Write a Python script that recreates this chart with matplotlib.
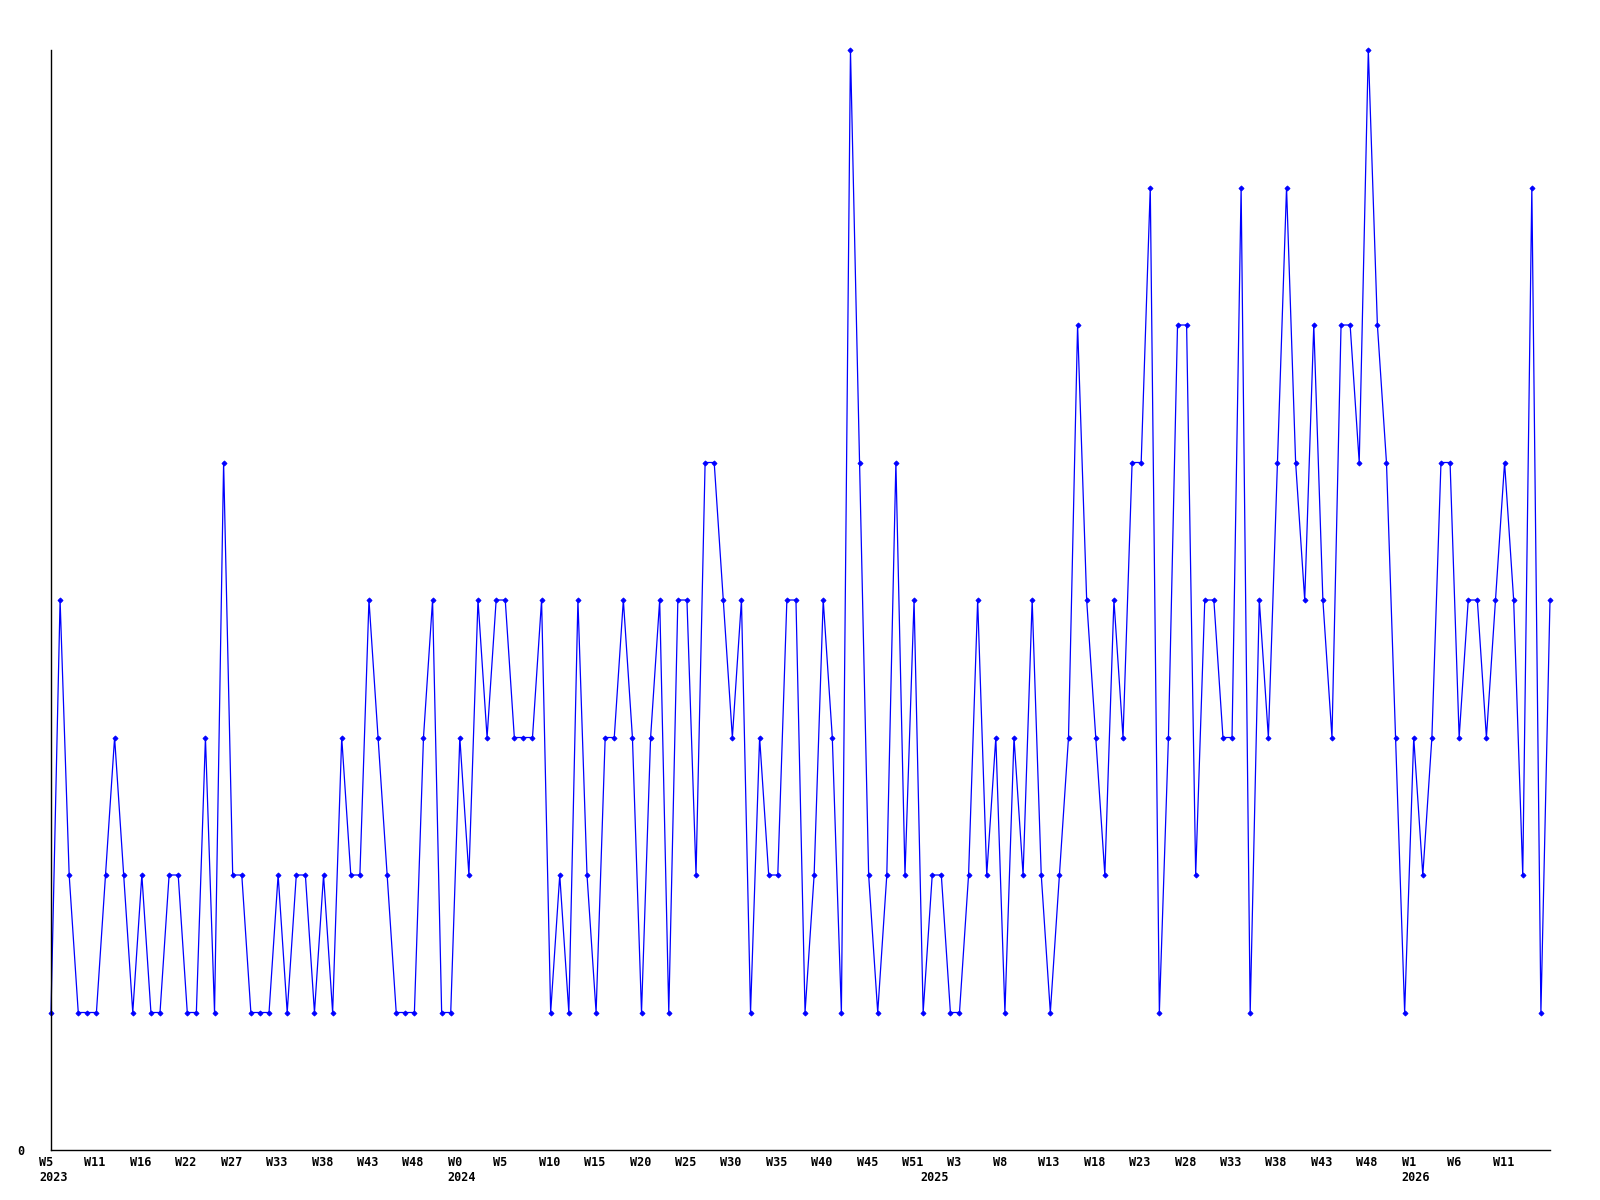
import matplotlib
matplotlib.use("Agg")
import matplotlib.pyplot as plt
from matplotlib.transforms import ScaledTranslation

# weekly counts, one point per week starting W5 2023
counts = [1, 4, 2, 1, 1, 1, 2, 3, 2, 1,
          2, 1, 1, 2, 2, 1, 1, 3, 1, 5,
          2, 2, 1, 1, 1, 2, 1, 2, 2, 1,
          2, 1, 3, 2, 2, 4, 3, 2, 1, 1,
          1, 3, 4, 1, 1, 3, 2, 4, 3, 4,
          4, 3, 3, 3, 4, 1, 2, 1, 4, 2,
          1, 3, 3, 4, 3, 1, 3, 4, 1, 4,
          4, 2, 5, 5, 4, 3, 4, 1, 3, 2,
          2, 4, 4, 1, 2, 4, 3, 1, 8, 5,
          2, 1, 2, 5, 2, 4, 1, 2, 2, 1,
          1, 2, 4, 2, 3, 1, 3, 2, 4, 2,
          1, 2, 3, 6, 4, 3, 2, 4, 3, 5,
          5, 7, 1, 3, 6, 6, 2, 4, 4, 3,
          3, 7, 1, 4, 3, 5, 7, 5, 4, 6,
          4, 3, 6, 6, 5, 8, 6, 5, 3, 1,
          3, 2, 3, 5, 5, 3, 4, 4, 3, 4,
          5, 4, 2, 7, 1, 4]

week_labels = ["W5", "W11", "W16", "W22", "W27", "W33", "W38", "W43", "W48",
               "W0", "W5", "W10", "W15", "W20", "W25", "W30", "W35", "W40",
               "W45", "W51", "W3", "W8", "W13", "W18", "W23", "W28", "W33",
               "W38", "W43", "W48", "W1", "W6", "W11"]
tick_step = 5
# year labels sit at the week where each year begins
year_pos = [0, 45, 97, 150]
year_names = ["2023", "2024", "2025", "2026"]

x = list(range(len(counts)))
font = dict(family="DejaVu Sans Mono", weight="bold", size=8.5)

fig = plt.figure(figsize=(16, 12), dpi=100)
ax = fig.add_axes([51 / 1600, 50 / 1200, 1499 / 1600, 1100 / 1200])

ax.plot(x, counts, color="#0000ff", lw=0.9, marker="D", ms=2.6,
        mfc="#0000ff", mec="#0000ff", mew=0.6, clip_on=False)

ax.set_xlim(0, len(counts) - 1)
ax.set_ylim(0, 8)

for s in ["top", "right"]:
    ax.spines[s].set_visible(False)
for s in ["left", "bottom"]:
    ax.spines[s].set_color("black")
    ax.spines[s].set_linewidth(1.0)

# week / year labels, left aligned a little before each tick position
ticks = [i * tick_step for i in range(len(week_labels))]
ax.set_xticks(ticks)
ax.set_xticklabels([])
trans = ax.get_xaxis_transform()
week_off = ScaledTranslation(-12 / 100, -6 / 100, fig.dpi_scale_trans)
year_off = ScaledTranslation(-12 / 100, -21 / 100, fig.dpi_scale_trans)
for t, w in zip(ticks, week_labels):
    ax.text(t, 0, w, transform=trans + week_off, ha="left", va="top", **font)
for p, y in zip(year_pos, year_names):
    ax.text(p, 0, y, transform=trans + year_off, ha="left", va="top", **font)

ax.set_yticks([0])
ax.set_yticklabels(["0"], **font)
ax.tick_params(axis="x", length=0)
ax.tick_params(axis="y", length=0, pad=19)

fig.savefig("out.png", dpi=100, facecolor="white")
